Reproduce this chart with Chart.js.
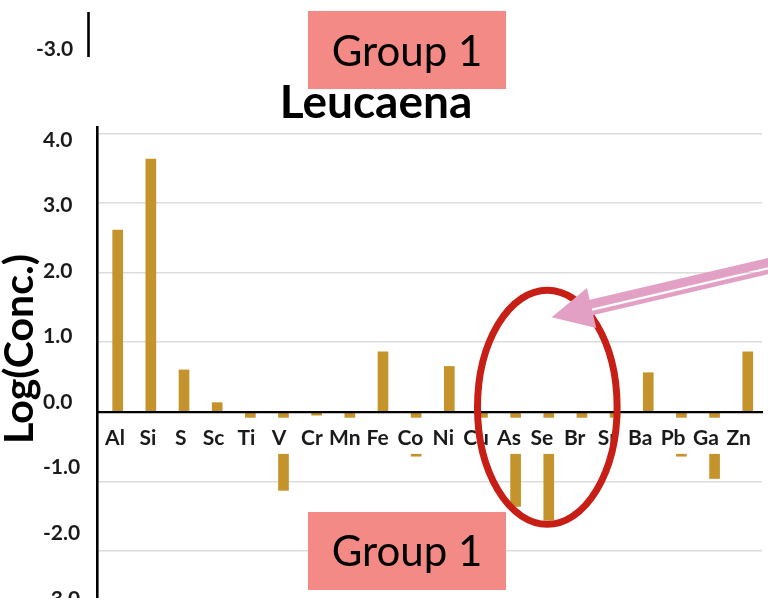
<!DOCTYPE html>
<html>
<head>
<meta charset="utf-8">
<title>Leucaena</title>
<script src="https://cdn.jsdelivr.net/npm/chart.js@4.4.1/dist/chart.umd.min.js"></script>
<style>
  html, body { margin: 0; padding: 0; background: #ffffff; }
  #wrap { width: 768px; height: 598px; overflow: hidden; position: relative; }
  canvas { display: block; }
</style>
</head>
<body>
<div id="wrap"><canvas id="chart" width="768" height="640"></canvas></div>
<script>
// Element categories along the x axis
const categories = ['Al', 'Si', 'S', 'Sc', 'Ti', 'V', 'Cr', 'Mn', 'Fe', 'Co',
                    'Ni', 'Cu', 'As', 'Se', 'Br', 'Sr', 'Ba', 'Pb', 'Ga', 'Zn'];

// Log of concentration for each element
const logConc = [2.61, 3.63, 0.60, 0.13, -0.35, -1.13, -0.05, -0.30, 0.86, -0.64,
                 0.65, -0.25, -1.36, -1.56, -0.30, -0.20, 0.56, -0.64, -0.96, 0.86];

// Value-axis tick marks
const yTicks = [-3, -2, -1, 0, 1, 2, 3, 4];

const FONT = 'Lato, "Open Sans", sans-serif';
const BAR = '#C4932B';
const INK = '#1a1a1a';

// Callouts, title and panel headings drawn over the chart
const overlay = {
  id: 'overlay',
  afterDraw(chart) {
    const ctx = chart.ctx;
    ctx.save();

    // tail of the panel above: its last tick label and axis stub
    ctx.fillStyle = INK;
    ctx.font = 'bold 21px ' + FONT;
    ctx.textAlign = 'left';
    ctx.textBaseline = 'alphabetic';
    ctx.fillText('-3.0', 36, 56);
    ctx.strokeStyle = '#000';
    ctx.lineWidth = 2.6;
    ctx.beginPath(); ctx.moveTo(88.5, 12); ctx.lineTo(88.5, 57); ctx.stroke();

    // chart title
    ctx.fillStyle = '#000';
    ctx.font = 'bold 46px ' + FONT;
    ctx.textAlign = 'center';
    ctx.fillText('Leucaena', 376, 118);

    // value axis title
    ctx.save();
    ctx.translate(33, 349);
    ctx.rotate(-Math.PI / 2);
    ctx.font = 'bold 41px ' + FONT;
    ctx.fillText('Log(Conc.)', 0, 0);
    ctx.restore();

    // "Group 1" headings
    const heading = (top, base) => {
      ctx.fillStyle = '#F38A85';
      ctx.fillRect(308, top, 198, 78);
      ctx.fillStyle = '#000';
      ctx.font = '42px ' + FONT;
      ctx.textAlign = 'center';
      ctx.fillText('Group 1', 407, base);
    };
    heading(11, 66);
    heading(512, 566);

    // red ring around As, Se, Br, Sr
    ctx.strokeStyle = '#C71F16';
    ctx.lineWidth = 7;
    ctx.beginPath();
    ctx.ellipse(547.3, 407.3, 69.8, 117, 0, 0, Math.PI * 2);
    ctx.stroke();

    // pink double-line arrow pointing into the ring
    const tipX = 551.7, tipY = 317.3;
    const ang = Math.atan2(266.7 - tipY, 768 - tipX);
    ctx.translate(tipX, tipY);
    ctx.rotate(ang);
    ctx.fillStyle = '#E2A0C5';
    ctx.beginPath();
    ctx.moveTo(0, 0); ctx.lineTo(41, -20.5); ctx.lineTo(41, 20.5); ctx.closePath();
    ctx.fill();
    ctx.fillRect(39, -8.5, 260, 9);
    ctx.fillRect(39, 2.8, 260, 4.6);
    ctx.restore();
  }
};

const categoryTicks = (s) => { s.ticks = categories.map((c, i) => ({ value: i })); };

function build() {
  new Chart(document.getElementById('chart'), {
    type: 'bar',
    data: {
      datasets: [{
        xAxisID: 'x',
        yAxisID: 'y',
        data: categories.map((c, i) => ({ x: i, y: logConc[i] })),
        backgroundColor: BAR,
        borderWidth: 0,
        barThickness: 10
      }]
    },
    options: {
      responsive: false,
      devicePixelRatio: 1,
      animation: false,
      layout: { padding: { left: 43, top: 127, right: 6, bottom: 0 } },
      plugins: {
        legend: { display: false },
        tooltip: { enabled: false },
        title: { display: false }
      },
      scales: {
        // bar positions
        x: {
          type: 'linear',
          offset: false,
          position: { y: 0 },
          min: -0.624,
          max: 19.43,
          grid: { display: false, drawTicks: false, offset: false },
          border: { display: false },
          ticks: { display: false },
          afterBuildTicks: categoryTicks,
          afterFit: (s) => { s.paddingLeft = 0; s.paddingRight = 0; }
        },
        // element names along the zero line, with a white band behind them
        xLab: {
          type: 'linear',
          offset: false,
          position: { y: 0 },
          min: -0.548,
          max: 19.708,
          grid: { display: false, drawTicks: false, offset: false },
          border: { display: true, color: '#000', width: 2.2, z: 1 },
          ticks: {
            z: 1,
            padding: 14,
            autoSkip: false,
            maxRotation: 0,
            minRotation: 0,
            color: INK,
            font: { family: FONT, weight: 'bold', size: 21, lineHeight: 1.2 },
            showLabelBackdrop: true,
            backdropColor: '#ffffff',
            backdropPadding: { top: 8, bottom: 3, left: 6, right: 6 },
            callback: (v) => categories[v] ?? ''
          },
          afterBuildTicks: categoryTicks,
          afterFit: (s) => { s.paddingLeft = 0; s.paddingRight = 0; }
        },
        y: {
          type: 'linear',
          position: 'left',
          weight: 0,
          min: -3.28,
          max: 4.09,
          grid: { color: '#DCDCDC', lineWidth: 1.5, drawTicks: false },
          border: { display: true, color: '#000', width: 2.6, z: 2 },
          ticks: { display: false },
          afterBuildTicks: (s) => { s.ticks = yTicks.map((v) => ({ value: v })); },
          afterFit: (s) => { s.width = 0; s.paddingTop = 0; s.paddingBottom = 0; }
        },
        yLab: {
          type: 'linear',
          position: 'left',
          weight: 1,
          min: -3.627,
          max: 4.196,
          grid: { display: false, drawTicks: false },
          border: { display: false },
          ticks: {
            crossAlign: 'far',
            color: INK,
            font: { family: FONT, weight: 'bold', size: 21 },
            callback: (v) => Number(v).toFixed(1)
          },
          afterBuildTicks: (s) => { s.ticks = yTicks.map((v) => ({ value: v })); },
          afterFit: (s) => { s.width = 54; s.paddingTop = 0; s.paddingBottom = 0; }
        }
      }
    },
    plugins: [overlay]
  });
}

Promise.all([
  document.fonts.load('bold 21px Lato'),
  document.fonts.load('42px Lato')
]).then(build, build);
</script>
</body>
</html>
